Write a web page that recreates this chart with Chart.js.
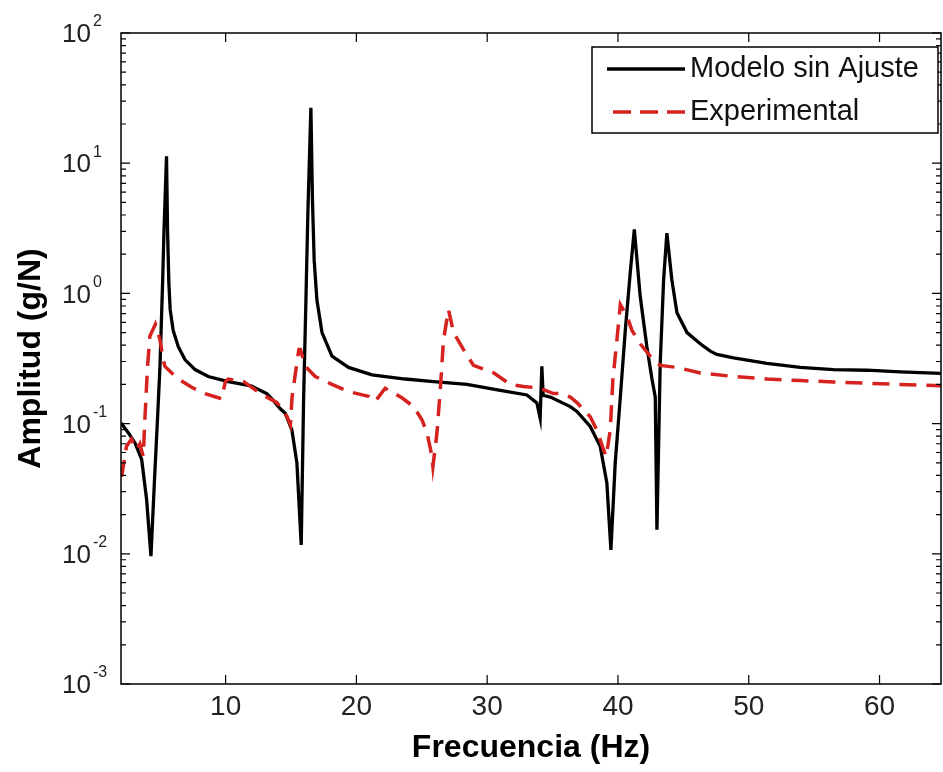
<!DOCTYPE html>
<html><head><meta charset="utf-8">
<script src="https://cdn.jsdelivr.net/npm/chart.js@4.4.1/dist/chart.umd.min.js"></script>
<style>html,body{margin:0;padding:0;background:#fff;}#wrap{width:943px;height:772px;}</style>
</head><body><div id="wrap"><canvas id="c" width="943" height="772"></canvas></div>
<script>
// ---- data ----
const seriesNames = ['Modelo sin Ajuste', 'Experimental'];
const xTitle = 'Frecuencia (Hz)';
const yTitle = 'Amplitud (g/N)';
const xTicks = [10, 20, 30, 40, 50, 60];
const yTickValues = [1e-3, 1e-2, 1e-1, 1e0, 1e1, 1e2];
const yTickExponents = ['-3', '-2', '-1', '0', '1', '2'];

const modelFreq = [2.0, 2.56, 3.07, 3.58, 3.96, 4.29, 4.55, 4.8, 4.98, 5.18, 5.29, 5.48, 5.56, 5.66, 5.76, 5.99, 6.38, 6.89, 7.66, 8.67, 10.2, 11.94, 13.14, 13.54, 14.18, 14.56, 15.07, 15.45, 15.78, 15.96, 16.14, 16.29, 16.52, 16.64, 16.77, 16.98, 17.37, 18.13, 19.4, 21.19, 23.73, 25.9, 28.45, 31.0, 33.04, 33.8, 34.05, 34.18, 34.28, 34.83, 36.35, 36.86, 37.88, 38.64, 39.15, 39.46, 39.79, 40.18, 40.56, 40.94, 41.25, 41.7, 42.21, 42.6, 42.85, 42.98, 43.23, 43.49, 43.74, 44.12, 44.51, 45.28, 46.29, 47.06, 47.56, 48.84, 51.39, 53.94, 56.48, 59.04, 61.58, 64.7];
const modelAmp = [0.101, 0.085, 0.071, 0.053, 0.026, 0.0096, 0.035, 0.113, 0.275, 1.2, 3.1, 11.3, 3.0, 1.2, 0.75, 0.52, 0.39, 0.31, 0.26, 0.23, 0.21, 0.195, 0.17, 0.155, 0.13, 0.12, 0.089, 0.05, 0.0117, 0.15, 0.89, 4.2, 26.6, 5.2, 1.8, 0.89, 0.5, 0.33, 0.27, 0.237, 0.22, 0.21, 0.2, 0.18, 0.166, 0.144, 0.11, 0.275, 0.165, 0.16, 0.135, 0.124, 0.095, 0.067, 0.035, 0.0107, 0.05, 0.16, 0.52, 1.45, 3.1, 0.95, 0.39, 0.22, 0.16, 0.0153, 0.29, 1.27, 2.9, 1.27, 0.71, 0.5, 0.41, 0.36, 0.34, 0.32, 0.29, 0.27, 0.26, 0.257, 0.25, 0.243];

const expFreq = [2.05, 2.42, 2.8, 3.18, 3.44, 3.7, 3.83, 4.03, 4.21, 4.63, 4.98, 5.23, 5.36, 6.25, 7.4, 8.43, 9.44, 9.69, 9.98, 10.2, 11.38, 12.66, 13.93, 14.7, 14.95, 15.08, 15.34, 15.6, 15.72, 16.1, 16.85, 18.13, 19.4, 20.93, 21.44, 22.2, 23.48, 24.37, 25.01, 25.4, 25.78, 25.85, 26.16, 26.41, 26.66, 27.04, 27.43, 28.19, 28.95, 30.49, 31.76, 32.77, 34.05, 35.07, 35.6, 36.35, 36.86, 37.88, 38.39, 38.9, 39.1, 39.41, 39.61, 39.92, 40.18, 40.69, 41.07, 41.7, 42.46, 43.22, 44.51, 46.29, 48.84, 51.39, 53.94, 56.48, 59.04, 61.58, 64.7];
const expAmp = [0.039, 0.067, 0.076, 0.063, 0.07, 0.056, 0.11, 0.275, 0.47, 0.58, 0.44, 0.31, 0.275, 0.225, 0.19, 0.17, 0.158, 0.155, 0.21, 0.22, 0.21, 0.17, 0.145, 0.113, 0.098, 0.16, 0.245, 0.37, 0.37, 0.275, 0.23, 0.2, 0.176, 0.162, 0.148, 0.187, 0.158, 0.135, 0.107, 0.085, 0.056, 0.047, 0.085, 0.18, 0.44, 0.75, 0.5, 0.37, 0.28, 0.245, 0.2, 0.193, 0.187, 0.17, 0.17, 0.16, 0.145, 0.113, 0.089, 0.063, 0.056, 0.089, 0.217, 0.44, 0.82, 0.67, 0.52, 0.41, 0.33, 0.28, 0.27, 0.245, 0.23, 0.22, 0.214, 0.209, 0.204, 0.2, 0.195];

const BLACK = '#000000';
const RED = '#d6221e';
const FONT = "'Liberation Sans', Arial, Helvetica, sans-serif";

const framePlugin = {
  id: 'frame',
  afterDatasetsDraw(chart) {
    const { ctx, chartArea: a, scales: { x, y } } = chart;
    ctx.save();
    ctx.strokeStyle = '#000';
    ctx.lineWidth = 1.5;
    ctx.strokeRect(a.left, a.top, a.right - a.left, a.bottom - a.top);
    ctx.lineWidth = 1.2;
    ctx.beginPath();
    xTicks.forEach(v => {
      const px = x.getPixelForValue(v);
      ctx.moveTo(px, a.bottom); ctx.lineTo(px, a.bottom - 9);
      ctx.moveTo(px, a.top); ctx.lineTo(px, a.top + 9);
    });
    yTickValues.forEach((dec, i) => {
      for (let m = 1; m <= 9; m++) {
        if (i === yTickValues.length - 1 && m > 1) break;
        const py = y.getPixelForValue(m * dec);
        const len = m === 1 ? 9 : 5;
        ctx.moveTo(a.left, py); ctx.lineTo(a.left + len, py);
        ctx.moveTo(a.right, py); ctx.lineTo(a.right - len, py);
      }
    });
    ctx.stroke();
    ctx.fillStyle = '#222';
    ctx.textBaseline = 'middle';
    yTickValues.forEach((v, i) => {
      const py = y.getPixelForValue(v);
      ctx.font = '26px ' + FONT;
      ctx.textAlign = 'right';
      ctx.fillText('10', a.left - 30, py + 2);
      ctx.font = '16px ' + FONT;
      ctx.textAlign = 'left';
      ctx.fillText(yTickExponents[i], a.left - 28, py - 11);
    });
    const lx = 592, ly = 47, lw = 346, lh = 86;
    ctx.fillStyle = '#fff';
    ctx.fillRect(lx, ly, lw, lh);
    ctx.strokeStyle = '#000';
    ctx.lineWidth = 1.5;
    ctx.strokeRect(lx, ly, lw, lh);
    const rows = [{ y: 69, color: BLACK, dash: [], w: 3.3 }, { y: 112, color: RED, dash: [18, 9], w: 3.5 }];
    rows.forEach((r, i) => {
      ctx.beginPath();
      ctx.setLineDash(r.dash);
      ctx.strokeStyle = r.color;
      ctx.lineWidth = r.w;
      ctx.moveTo(i === 0 ? 607 : 613, r.y); ctx.lineTo(685, r.y);
      ctx.stroke();
      ctx.setLineDash([]);
      ctx.fillStyle = '#111';
      ctx.font = '29px ' + FONT;
      ctx.textAlign = 'left';
      ctx.textBaseline = 'middle';
      ctx.fillText(seriesNames[i], 690, r.y);
    });
    ctx.restore();
  }
};

const toPts = (fs, as) => fs.map((f, i) => ({ x: f, y: as[i] }));

new Chart(document.getElementById('c'), {
  type: 'line',
  data: {
    datasets: [
      { label: seriesNames[0], data: toPts(modelFreq, modelAmp), borderColor: BLACK, borderWidth: 3.3, pointRadius: 0, tension: 0, fill: false, order: 1 },
      { label: seriesNames[1], data: toPts(expFreq, expAmp), borderColor: RED, borderWidth: 3.5, borderDash: [17, 10], pointRadius: 0, tension: 0, fill: false, order: 0 }
    ]
  },
  options: {
    responsive: false,
    animation: false,
    devicePixelRatio: 1,
    layout: { padding: { top: 33, right: 2, left: 0, bottom: 0 } },
    plugins: { legend: { display: false }, tooltip: { enabled: false } },
    scales: {
      x: {
        type: 'linear', min: 2, max: 64.7,
        grid: { display: false, drawTicks: false },
        border: { display: false },
        afterBuildTicks: s => { s.ticks = xTicks.map(v => ({ value: v })); },
        afterFit: s => { s.height = 88; },
        ticks: { color: '#222', font: { family: FONT, size: 28 }, padding: 6, maxRotation: 0, autoSkip: false },
        title: { display: true, text: xTitle, color: '#000', font: { family: FONT, size: 32, weight: 'bold' }, padding: { top: 0, bottom: 5 } }
      },
      y: {
        type: 'logarithmic', min: 1e-3, max: 1e2,
        grid: { display: false, drawTicks: false },
        border: { display: false },
        afterBuildTicks: s => { s.ticks = yTickValues.map(v => ({ value: v })); },
        afterFit: s => { s.width = 121; },
        ticks: { display: false },
        title: { display: true, text: yTitle, color: '#000', font: { family: FONT, size: 32, weight: 'bold' }, padding: { top: 12, bottom: 0 } }
      }
    }
  },
  plugins: [framePlugin]
});
</script>
</body></html>
